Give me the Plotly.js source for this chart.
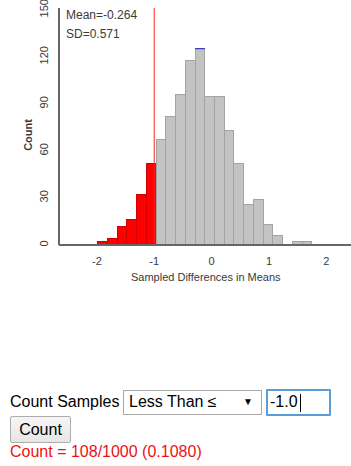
<!DOCTYPE html>
<html><head><meta charset="utf-8">
<script src="https://cdn.plot.ly/plotly-3.0.1.min.js"></script>
<style>
body{margin:0;background:#fff;font-family:"Liberation Sans",Arial,sans-serif;width:351px;height:466px;overflow:hidden;position:relative}
#plot{position:absolute;left:0;top:0;width:351px;height:300px}
.lbl{position:absolute;font-size:16px;color:#000;white-space:nowrap}
#sel{position:absolute;left:123px;top:390px;width:137px;height:23px;border:1px solid #a9a9a9;background:#fff;box-sizing:content-box}
#sel span.t{position:absolute;left:5px;top:2px;font-size:16px}
#sel span.a{position:absolute;right:8px;top:5px;font-size:10px}
#inp{position:absolute;left:266px;top:389px;width:61px;height:23px;border:2px solid #5b9dd9;border-radius:1px;background:#fff}
#inp span{position:absolute;left:2px;top:2px;font-size:16px}
#inp i{position:absolute;left:32px;top:3px;width:1px;height:18px;background:#000}
#btn{position:absolute;left:10px;top:416px;width:59px;height:25px;border:1px solid #adadad;border-radius:2px;background:linear-gradient(#f6f6f6,#e6e6e6);font-size:16px;text-align:center;line-height:25px}
#res{position:absolute;left:10px;top:443px;font-size:16px;color:#ee1111}
</style></head>
<body>
<div id="plot"></div>
<div class="lbl" style="left:10px;top:393px">Count Samples</div>
<div id="sel"><span class="t">Less Than ≤</span><span class="a">▼</span></div>
<div id="inp"><span>-1.0</span><i></i></div>
<div id="btn">Count</div>
<div id="res">Count = 108/1000 (0.1080)</div>
<script>
// Histogram data
const binStart = -1.986;
const binWidth = 0.1697;
const redCounts  = [2, 4, 12, 16, 32, 52];
const grayCounts = [67, 82, 96, 118, 125, 95, 95, 73, 52, 26, 29, 13, 6, 0, 2, 2];
const blueBin = 10;      // bin index with the highlighted sample
const blueCount = 1;
const cutoff = -1.0;
const meanText = "Mean=-0.264";
const sdText = "SD=0.571";
const xTicks = [-2, -1, 0, 1, 2];
const yTicks = [0, 30, 60, 90, 120, 150];

const center = i => binStart + (i + 0.5) * binWidth;
const redX = redCounts.map((_, i) => center(i));
const grayX = grayCounts.map((_, i) => center(i + redCounts.length));

const traces = [
  {type:'bar', x:redX, y:redCounts, width:binWidth,
   marker:{color:'#ff0000', line:{color:'#d00000', width:1}}, hoverinfo:'skip'},
  {type:'bar', x:grayX, y:grayCounts, width:binWidth,
   marker:{color:'#c3c3c3', line:{color:'#a3a3a3', width:1}}, hoverinfo:'skip'},
  {type:'bar', x:[center(blueBin)], y:[blueCount], width:binWidth,
   marker:{color:'#3c3cc8', line:{color:'#3c3cc8', width:0}}, hoverinfo:'skip'}
];

const fnt = {family:'"Liberation Sans", Arial, sans-serif', size:11, color:'#3a3a3a'};
const layout = {
  width:351, height:300,
  margin:{l:59, r:0, t:8, b:55},
  barmode:'stack', bargap:0, showlegend:false,
  paper_bgcolor:'#fff', plot_bgcolor:'#fff',
  font:fnt,
  xaxis:{range:[-2.66, 2.43], tickvals:xTicks, ticktext:xTicks.map(String),
    showgrid:false, zeroline:false, showline:false, ticks:'', ticklabelstandoff:8,
    tickfont:{...fnt, size:11}},
  yaxis:{range:[0, 151.2], tickvals:yTicks, ticktext:yTicks.map(String),
    showgrid:false, zeroline:false, showline:false, ticks:'', tickangle:-90,
    ticklabelstandoff:8, ticklabeloverflow:'allow', tickfont:{...fnt, size:11}},
  shapes:[
    {type:'line', xref:'x', yref:'paper', x0:cutoff, x1:cutoff, y0:0, y1:1,
     line:{color:'#ff2020', width:1}},
    {type:'line', xref:'paper', yref:'paper', x0:0, x1:0, y0:0, y1:1,
     line:{color:'#666', width:2}},
    {type:'line', xref:'paper', yref:'paper', x0:0, x1:1, y0:0, y1:0,
     line:{color:'#666', width:2}}
  ],
  annotations:[
    {xref:'paper', yref:'paper', x:0.017, y:0.972, xanchor:'left', yanchor:'middle',
     text:meanText, showarrow:false, font:{...fnt, size:12}},
    {xref:'paper', yref:'paper', x:0.017, y:0.89, xanchor:'left', yanchor:'middle',
     text:sdText, showarrow:false, font:{...fnt, size:12}},
    {xref:'paper', yref:'paper', x:-0.106, y:0.465, xanchor:'center', yanchor:'middle',
     text:'<b>Count</b>', textangle:-90, showarrow:false, font:{...fnt, size:11}},
    {xref:'paper', yref:'paper', x:0.505, y:0, yshift:-32, xanchor:'center', yanchor:'middle',
     text:'Sampled Differences in Means', showarrow:false, font:{...fnt, size:11}}
  ]
};
Plotly.newPlot('plot', traces, layout, {staticPlot:true, displayModeBar:false}).then(gd => {
  // ensure top tick label is shown if Plotly dropped it
  const labels = Array.from(document.querySelectorAll('.ytick text')).map(t => t.textContent);
  if (!labels.includes(String(yTicks[yTicks.length - 1]))) {
    Plotly.relayout(gd, {'yaxis.range':[0, 151.2],
      annotations: layout.annotations.concat([{xref:'paper', yref:'y', x:0, xshift:-19,
        y:yTicks[yTicks.length - 1], text:String(yTicks[yTicks.length - 1]), textangle:-90,
        showarrow:false, xanchor:'center', yanchor:'middle', font:{...fnt, size:11}}])});
  }
});
</script>
</body></html>
